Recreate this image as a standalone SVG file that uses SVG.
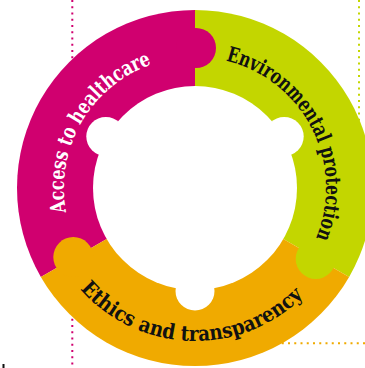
<svg xmlns="http://www.w3.org/2000/svg" width="365" height="368" viewBox="0 0 365 368">
  <style>
    .dot { fill: none; stroke-width: 2; stroke-dasharray: 2 4.25; }
    .lbl { font-family: "DejaVu Serif", "Liberation Serif", serif; font-weight: bold; font-size: 21px; }
    .hole { fill: #ffffff; }
  </style>
  <defs>
    <path id="pMag" d="M81.45,253.5 A131,131 0 0 1 195,57"/>
    <path id="pGrn" d="M195,57 A131,131 0 0 1 308.45,253.5"/>
    <path id="pOrg" d="M62.5,264.5 A153,153 0 0 0 327.5,264.5"/>
  </defs>
  <rect width="365" height="368" fill="#ffffff"/>
  <g id="guides">
    <line class="dot" x1="72.3" y1="0" x2="72.3" y2="368" stroke="#D0006F"/>
    <line class="dot" x1="359" y1="0" x2="359" y2="130" stroke="#C3D600"/>
    <line class="dot" x1="365" y1="343.3" x2="270" y2="343.3" stroke="#F0AA00"/>
    <rect x="2.5" y="364" width="2" height="4" fill="#111111"/>
  </g>
  <g id="access">
    <path d="M195,188 L40.85,277 A178,178 0 0 1 195,10 Z" fill="#D0006F"/>
  </g>
  <g id="environment">
    <path d="M195,188 L195,10 A178,178 0 0 1 349.15,277 Z" fill="#C3D600"/>
  </g>
  <g id="ethics">
    <path d="M195,188 L349.15,277 A178,178 0 0 1 40.85,277 Z" fill="#F0AA00"/>
  </g>
  <g id="knobs">
    <circle cx="196" cy="48" r="20" fill="#D0006F"/>
    <circle cx="315.7" cy="258.9" r="20" fill="#C3D600"/>
    <circle cx="73.3" cy="257.1" r="20" fill="#F0AA00"/>
  </g>
  <g id="centre">
    <circle class="hole" cx="195" cy="188" r="102"/>
    <circle class="hole" cx="195" cy="291" r="19.5"/>
    <circle class="hole" cx="284.2" cy="136.5" r="19.5"/>
    <circle class="hole" cx="105.8" cy="136.5" r="19.5"/>
  </g>
  <g id="labels">
    <text class="lbl" fill="#ffffff"><textPath href="#pMag" startOffset="50%" text-anchor="middle" textLength="186" lengthAdjust="spacingAndGlyphs">Access to healthcare</textPath></text>
    <text class="lbl" fill="#111111"><textPath href="#pGrn" startOffset="52.5%" text-anchor="middle" textLength="226" lengthAdjust="spacingAndGlyphs">Environmental protection</textPath></text>
    <text class="lbl" fill="#111111"><textPath href="#pOrg" startOffset="48.5%" text-anchor="middle" textLength="250" lengthAdjust="spacingAndGlyphs">Ethics and transparency</textPath></text>
  </g>
</svg>
